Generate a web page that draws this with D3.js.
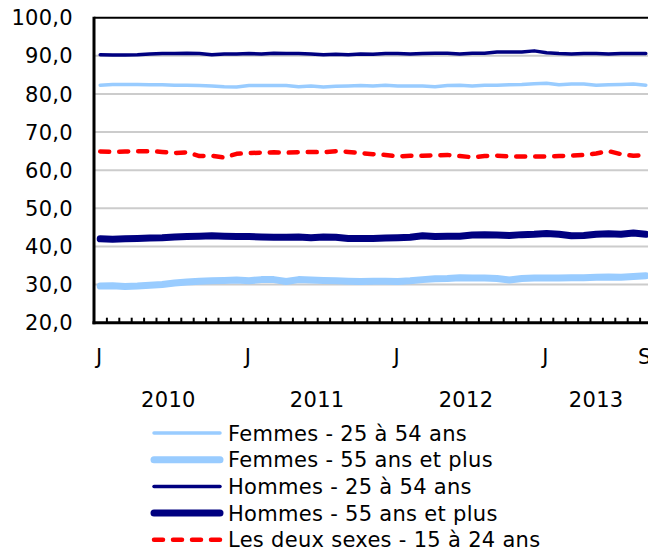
<!DOCTYPE html>
<html>
<head>
<meta charset="utf-8">
<script src="https://cdn.jsdelivr.net/npm/d3@7"></script>
<style>
  body { margin: 0; background: #fff; }
  svg { display: block; font-family: "DejaVu Sans", Verdana, sans-serif; }
  svg text { font-size: 21px; letter-spacing: 0.3px; fill: #000; }
</style>
</head>
<body>
<div id="chart"></div>
<script>
// Jan 2010 .. Sep 2013, monthly
const months = [
  "J","F","M","A","M","J","J","A","S","O","N","D",
  "J","F","M","A","M","J","J","A","S","O","N","D",
  "J","F","M","A","M","J","J","A","S","O","N","D",
  "J","F","M","A","M","J","J","A","S"
];
const years = ["2010", "2011", "2012", "2013"];
const shownLabels = [0, 12, 24, 36, 44];

const femmes2554 = [
  82.3, 82.5, 82.5, 82.5, 82.4, 82.4, 82.3, 82.3, 82.2, 82.1, 81.9, 81.8,
  82.2, 82.2, 82.2, 82.2, 81.9, 82.1, 81.8, 82.0, 82.1, 82.2, 82.1, 82.3,
  82.1, 82.1, 82.1, 81.9, 82.2, 82.3, 82.1, 82.3, 82.3, 82.4, 82.5, 82.7,
  82.8, 82.4, 82.6, 82.6, 82.3, 82.4, 82.5, 82.6, 82.3
];
const femmes55 = [
  29.6, 29.7, 29.5, 29.6, 29.8, 30.0, 30.4, 30.7, 30.9, 31.0, 31.1, 31.2,
  31.0, 31.3, 31.3, 30.8, 31.3, 31.2, 31.1, 31.0, 30.9, 30.8, 30.9, 30.9,
  30.8, 31.0, 31.3, 31.5, 31.6, 31.8, 31.7, 31.7, 31.6, 31.2, 31.6, 31.7,
  31.7, 31.7, 31.8, 31.8, 31.9, 32.0, 31.9, 32.1, 32.3
];
const hommes2554 = [
  90.3, 90.2, 90.2, 90.3, 90.5, 90.6, 90.6, 90.7, 90.6, 90.3, 90.5, 90.5,
  90.6, 90.5, 90.7, 90.6, 90.6, 90.5, 90.3, 90.4, 90.3, 90.5, 90.4, 90.6,
  90.6, 90.5, 90.6, 90.7, 90.7, 90.5, 90.7, 90.7, 91.0, 91.0, 91.0, 91.3,
  90.8, 90.6, 90.5, 90.6, 90.6, 90.5, 90.6, 90.6, 90.6
];
const hommes55 = [
  42.0, 41.9, 42.0, 42.1, 42.2, 42.3, 42.5, 42.6, 42.7, 42.8, 42.7, 42.6,
  42.6, 42.5, 42.4, 42.4, 42.5, 42.3, 42.5, 42.4, 42.1, 42.1, 42.1, 42.2,
  42.3, 42.4, 42.8, 42.6, 42.7, 42.7, 43.0, 43.1, 43.0, 42.9, 43.1, 43.2,
  43.4, 43.2, 42.8, 42.9, 43.2, 43.3, 43.2, 43.5, 43.2
];
const deuxSexes1524 = [
  64.9, 64.8, 64.9, 65.0, 65.0, 64.8, 64.5, 64.7, 63.7, 63.8, 63.3, 64.3,
  64.5, 64.6, 64.7, 64.6, 64.7, 64.8, 64.7, 65.0, 64.8, 64.5, 64.2, 64.0,
  63.6, 63.8, 63.8, 63.9, 64.0, 63.7, 63.4, 63.7, 63.8, 63.6, 63.6, 63.6,
  63.6, 63.7, 63.8, 64.0, 64.4, 65.0, 64.2, 63.8, 63.9
];
const yTicks = [20, 30, 40, 50, 60, 70, 80, 90, 100];

const series = [
  { name: "Femmes - 25 à 54 ans", values: femmes2554, color: "#99ccff", width: 3.5 },
  { name: "Femmes - 55 ans et plus", values: femmes55, color: "#99ccff", width: 7 },
  { name: "Hommes - 25 à 54 ans", values: hommes2554, color: "#000080", width: 3.5 },
  { name: "Hommes - 55 ans et plus", values: hommes55, color: "#000080", width: 7 },
  { name: "Les deux sexes - 15 à 24 ans", values: deuxSexes1524, color: "#ff0000", width: 4.5, dash: "9 10" }
];

const W = 648, H = 555;
const plot = { left: 94, right: 652, top: 17.7, bottom: 322.7 };

const svg = d3.select("#chart").append("svg").attr("width", W).attr("height", H);

const x = d3.scaleBand().domain(d3.range(months.length)).range([plot.left, plot.right]).padding(0);
const xEdge = d3.scaleLinear().domain([0, months.length]).range([plot.left, plot.right]);
const y = d3.scaleLinear().domain([20, 100]).range([plot.bottom, plot.top]);
const fmt = v => d3.format(".1f")(v).replace(".", ",");

// gridlines
svg.append("g")
  .selectAll("line")
  .data(yTicks.filter(d => d > 20 && d < 100))
  .join("line")
  .attr("x1", plot.left).attr("x2", W)
  .attr("y1", d => y(d)).attr("y2", d => y(d))
  .attr("stroke", "#cccccc").attr("stroke-width", 2);

// y labels
svg.append("g")
  .selectAll("text")
  .data(yTicks)
  .join("text")
  .attr("x", 73)
  .attr("y", d => y(d))
  .attr("dy", "0.36em")
  .attr("text-anchor", "end")
  .text(fmt);

// lines
const line = vals => d3.line()
  .x((d, i) => x(i) + x.bandwidth() / 2)
  .y(d => y(d))(vals);

svg.append("g")
  .selectAll("path")
  .data(series)
  .join("path")
  .attr("d", d => line(d.values))
  .attr("fill", "none")
  .attr("stroke", d => d.color)
  .attr("stroke-width", d => d.width)
  .attr("stroke-linejoin", "round")
  .attr("stroke-linecap", "round")
  .attr("stroke-dasharray", d => d.dash || null);

// frame: top
svg.append("line").attr("x1", plot.left).attr("x2", W).attr("y1", plot.top).attr("y2", plot.top)
  .attr("stroke", "#000").attr("stroke-width", 2);

// x axis tick marks between months
const xAxis = d3.axisBottom(xEdge)
  .tickValues(d3.range(1, months.length))
  .tickSize(-5)
  .tickFormat("");
svg.append("g")
  .attr("transform", `translate(0,${plot.bottom})`)
  .call(xAxis)
  .call(g => g.select(".domain").remove())
  .call(g => g.selectAll(".tick line").attr("stroke", "#000").attr("stroke-width", 2));

svg.append("line").attr("x1", plot.left - 1.5).attr("x2", W).attr("y1", plot.bottom).attr("y2", plot.bottom)
  .attr("stroke", "#000").attr("stroke-width", 3);
svg.append("line").attr("x1", plot.left).attr("x2", plot.left).attr("y1", plot.top - 1).attr("y2", plot.bottom + 1.5)
  .attr("stroke", "#000").attr("stroke-width", 3);

// month labels
svg.append("g")
  .selectAll("text")
  .data(shownLabels)
  .join("text")
  .attr("x", d => x(d) + x.bandwidth() / 2 - 1)
  .attr("y", 364)
  .attr("text-anchor", "middle")
  .text(d => months[d]);

// year labels centred on their months
svg.append("g")
  .selectAll("text")
  .data(years)
  .join("text")
  .attr("x", (d, i) => {
    const a = i * 12, b = Math.min(i * 12 + 12, months.length);
    return (xEdge(a) + xEdge(b)) / 2;
  })
  .attr("y", 407)
  .attr("text-anchor", "middle")
  .text(d => d);

// legend
const legend = svg.append("g")
  .selectAll("g")
  .data(series)
  .join("g")
  .attr("transform", (d, i) => `translate(0,${433 + i * 26.7})`);

legend.append("line")
  .attr("x1", 154).attr("x2", 220)
  .attr("stroke", d => d.color)
  .attr("stroke-width", d => d.width)
  .attr("stroke-linecap", "round")
  .attr("stroke-dasharray", d => d.dash || null);

legend.append("text")
  .attr("x", 228)
  .attr("dy", "0.36em")
  .text(d => d.name);
</script>
</body>
</html>
